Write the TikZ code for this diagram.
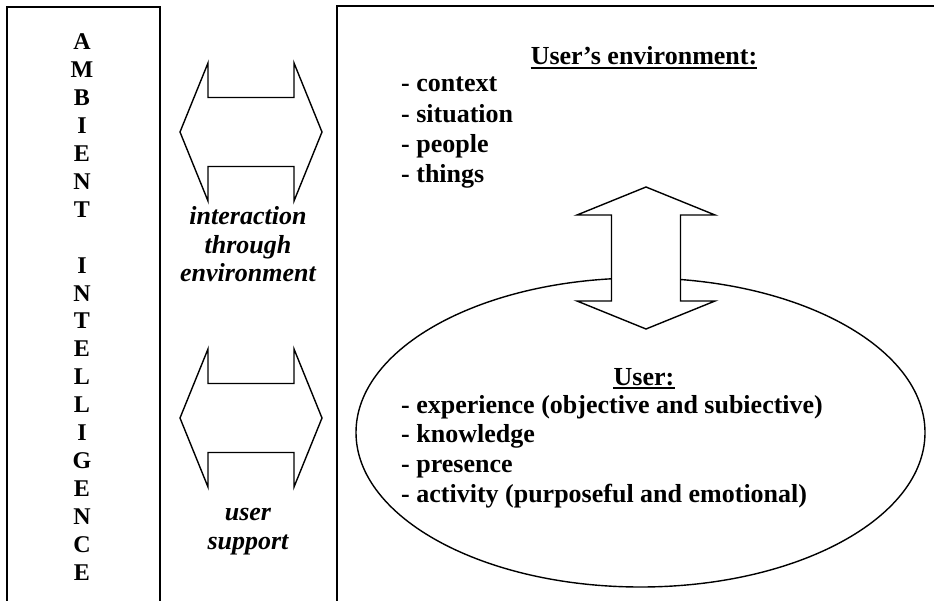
\documentclass[tikz,border=0pt]{standalone}
\usepackage{fontspec}
\setmainfont{Liberation Serif}
\begin{document}
\begin{tikzpicture}[x=1pt,y=-1pt,
  frame/.style={line width=1.7pt},
  outline/.style={line width=1.4pt, line join=miter},
  lbl/.style={font=\fontsize{26}{30}\selectfont\bfseries, inner sep=0pt},
  letter/.style={font=\fontsize{24}{28}\selectfont\bfseries, inner sep=0pt, anchor=base},
  ilbl/.style={font=\fontsize{26}{30}\selectfont\bfseries\itshape, inner sep=0pt, anchor=base},
  uline/.style={line width=1.7pt},
  dblarrow/.pic={
    \draw[outline, fill=white]
      (-71,0) -- (-43,-69) -- (-43,-34.5) -- (43,-34.5) -- (43,-69) -- (71,0)
      -- (43,69) -- (43,34.5) -- (-43,34.5) -- (-43,69) -- cycle;
  }]
\useasboundingbox (0,0) rectangle (934,601);

% left panel with the vertical title
\draw[frame] (7,601) -- (7,7) -- (160,7) -- (160,601);
\foreach \ch/\i in {A/0,M/1,B/2,I/3,E/4,N/5,T/6,
                    I/8,N/9,T/10,E/11,L/12,L/13,I/14,G/15,E/16,N/17,C/18,E/19}
  \node[letter] (ami\i) at (82, 50+\i*27.9) {\ch};

% right panel
\draw[frame] (337,601) -- (337,6) -- (934,6);

% exchange arrows between the panels
\pic at (251,132) {dblarrow};
\pic at (251,418) {dblarrow};
\node[ilbl] (ia1) at (248,225) {interaction};
\node[ilbl] (ia2) at (248,254) {through};
\node[ilbl] (ia3) at (248,282) {environment};
\node[ilbl] (us1) at (248,520) {user};
\node[ilbl] (us2) at (248,549) {support};

% user's environment
\node[lbl, anchor=base] (envtitle) at (644,65) {User’s environment:};
\draw[uline] ([yshift=-3pt]envtitle.base west) -- ([yshift=-3pt]envtitle.base east);
\foreach \txt [count=\i from 0] in {context,situation,people,things}
  \node[lbl, anchor=base west] (env\i) at (401, 92+\i*30.3) {- \txt};

% the user
\draw[outline] (640.5,432.5) ellipse [x radius=284.5, y radius=154.5];
\pic[rotate=90] at (646,258) {dblarrow};
\node[lbl, anchor=base] (usertitle) at (644,385) {User:};
\draw[uline] ([yshift=-3pt]usertitle.base west) -- ([yshift=-3pt]usertitle.base east);
\foreach \txt [count=\i from 0] in {experience (objective and subiective),
    knowledge, presence, activity (purposeful and emotional)}
  \node[lbl, anchor=base west] (u\i) at (401, 413+\i*29.7) {- \txt};
\end{tikzpicture}
\end{document}
